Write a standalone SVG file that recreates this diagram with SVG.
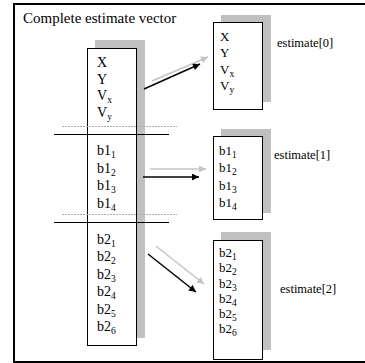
<svg xmlns="http://www.w3.org/2000/svg" width="365" height="363" viewBox="0 0 365 363" font-family="'Liberation Serif', 'Times New Roman', serif">
<style>
text{font-family:'Liberation Serif','Times New Roman',serif;fill:#000}
.big{font-size:14px}
.small{font-size:13px}
.lbl{font-size:12.5px}
.title{font-size:15px}
.sub{font-size:9.5px}
.box{fill:#fff;stroke:#000;stroke-width:1}
.shadow{fill:#c0c0c0}
.sep{stroke:#000;stroke-width:1}
.dot{stroke:#b0b0b0;stroke-width:1;stroke-dasharray:2 1}
.blk{stroke:#000;stroke-width:1.5;fill:none}
.gry{stroke:#c4c4c4;stroke-width:1.5;fill:none}
</style>
<defs>
<marker id="ah" viewBox="0 0 10 10" refX="10" refY="5" markerWidth="9" markerHeight="7" markerUnits="userSpaceOnUse" orient="auto"><path d="M0,0 L10,5 L0,10 z" fill="#000"/></marker>
<marker id="ahg" viewBox="0 0 10 10" refX="10" refY="5" markerWidth="9" markerHeight="7" markerUnits="userSpaceOnUse" orient="auto"><path d="M0,0 L10,5 L0,10 z" fill="#c4c4c4"/></marker>
</defs>
<rect x="0" y="0" width="365" height="363" fill="#fff"/>
<g id="frame"><path d="M14,363 L14,4 L365,4 M13,362 L365,362" stroke="#000" stroke-width="2" fill="none"/></g>
<g id="title"><text class="title" x="23" y="23">Complete estimate vector</text></g>

<g id="full-vector">
<rect class="shadow" x="95" y="40" width="50" height="298"/>
<rect class="box" x="87.5" y="48.5" width="49" height="297"/>
<text class="big" x="97" y="66.5">X</text>
<text class="big" x="97" y="83.5">Y</text>
<text class="big" x="97" y="100">V<tspan class="sub" dy="3">x</tspan></text>
<text class="big" x="97" y="117">V<tspan class="sub" dy="3">y</tspan></text>
<line class="dot" x1="62" y1="126.5" x2="177" y2="126.5"/>
<line class="sep" x1="54" y1="134.5" x2="169" y2="134.5"/>
<text class="big" x="97" y="155">b1<tspan class="sub" dy="3">1</tspan></text>
<text class="big" x="97" y="172.5">b1<tspan class="sub" dy="3">2</tspan></text>
<text class="big" x="97" y="190">b1<tspan class="sub" dy="3">3</tspan></text>
<text class="big" x="97" y="207.5">b1<tspan class="sub" dy="3">4</tspan></text>
<line class="dot" x1="62" y1="214.5" x2="177" y2="214.5"/>
<line class="sep" x1="54" y1="222.5" x2="169" y2="222.5"/>
<text class="big" x="97" y="243.5">b2<tspan class="sub" dy="3">1</tspan></text>
<text class="big" x="97" y="261">b2<tspan class="sub" dy="3">2</tspan></text>
<text class="big" x="97" y="278.5">b2<tspan class="sub" dy="3">3</tspan></text>
<text class="big" x="97" y="296">b2<tspan class="sub" dy="3">4</tspan></text>
<text class="big" x="97" y="313.5">b2<tspan class="sub" dy="3">5</tspan></text>
<text class="big" x="97" y="331">b2<tspan class="sub" dy="3">6</tspan></text>
</g>

<g id="estimate0">
<rect class="shadow" x="221" y="15" width="50" height="87"/>
<rect class="box" x="213.5" y="22.5" width="49" height="87"/>
<text class="small" x="220" y="40.5">X</text>
<text class="small" x="220" y="57">Y</text>
<text class="small" x="220" y="73.5">V<tspan class="sub" dy="3">x</tspan></text>
<text class="small" x="220" y="90">V<tspan class="sub" dy="3">y</tspan></text>
<text class="lbl" x="277" y="47">estimate[0]</text>
</g>

<g id="estimate1">
<rect class="shadow" x="221" y="129" width="50" height="84"/>
<rect class="box" x="213.5" y="136.5" width="49" height="83"/>
<text class="small" x="219" y="155">b1<tspan class="sub" dy="3">1</tspan></text>
<text class="small" x="219" y="172">b1<tspan class="sub" dy="3">2</tspan></text>
<text class="small" x="219" y="189.5">b1<tspan class="sub" dy="3">3</tspan></text>
<text class="small" x="219" y="206.5">b1<tspan class="sub" dy="3">4</tspan></text>
<text class="lbl" x="274" y="159">estimate[1]</text>
</g>

<g id="estimate2">
<rect class="shadow" x="221" y="232" width="50" height="118"/>
<rect class="box" x="213.5" y="240.5" width="49" height="119"/>
<text class="small" x="219" y="257">b2<tspan class="sub" dy="3">1</tspan></text>
<text class="small" x="219" y="272">b2<tspan class="sub" dy="3">2</tspan></text>
<text class="small" x="219" y="287.5">b2<tspan class="sub" dy="3">3</tspan></text>
<text class="small" x="219" y="302.5">b2<tspan class="sub" dy="3">4</tspan></text>
<text class="small" x="219" y="317.5">b2<tspan class="sub" dy="3">5</tspan></text>
<text class="small" x="219" y="333">b2<tspan class="sub" dy="3">6</tspan></text>
<text class="lbl" x="280" y="293">estimate[2]</text>
</g>

<g id="connectors">
<line class="gry" x1="152" y1="81" x2="208" y2="57" marker-end="url(#ahg)"/>
<line class="blk" x1="144" y1="89" x2="200" y2="64" marker-end="url(#ah)"/>
<line class="gry" x1="150" y1="169" x2="206" y2="169" marker-end="url(#ahg)"/>
<line class="blk" x1="143" y1="177" x2="199" y2="177" marker-end="url(#ah)"/>
<line class="gry" x1="156" y1="246" x2="204" y2="284" marker-end="url(#ahg)"/>
<line class="blk" x1="148" y1="254" x2="196" y2="292" marker-end="url(#ah)"/>
</g>
</svg>
